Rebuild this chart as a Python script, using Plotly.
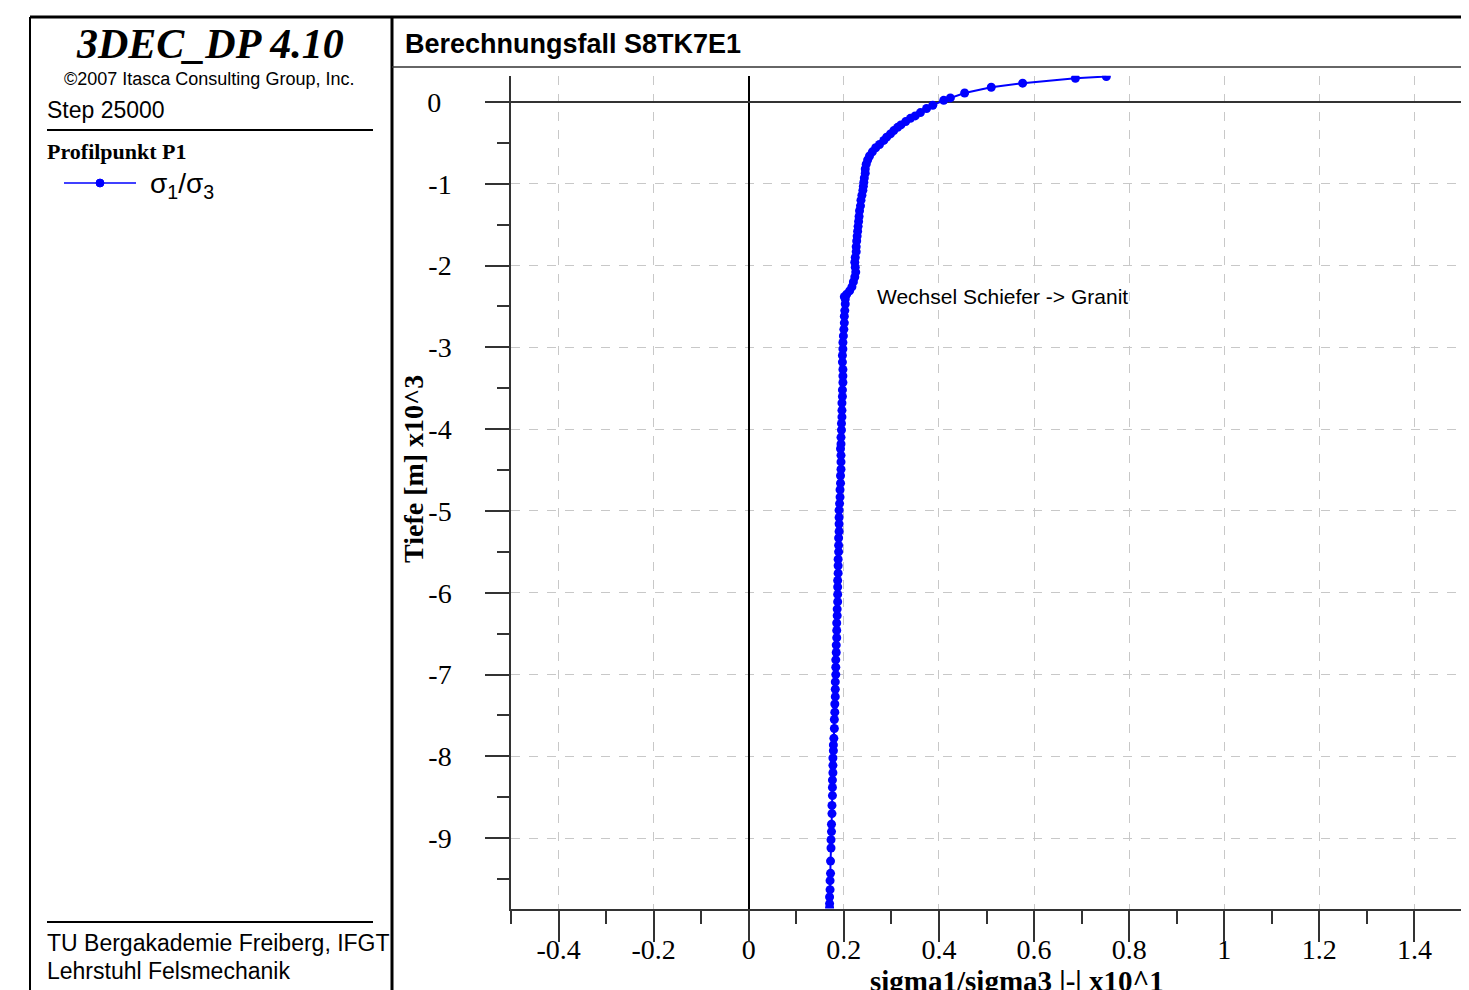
import plotly.graph_objects as go

# ---- data (depth in x10^3 m, ratio sigma1/sigma3 in x10^1) ----
depth_top = [0.31, 0.29, 0.23, 0.18, 0.11, 0.05, 0.02, -0.04, -0.08, -0.13, -0.17, -0.20,
             -0.24, -0.28, -0.31, -0.35, -0.39, -0.43, -0.47, -0.52, -0.56, -0.61, -0.66,
             -0.71, -0.76, -0.82, -0.87, -0.93, -0.98, -1.03]
ratio_top = [0.752, 0.687, 0.576, 0.510, 0.454, 0.424, 0.410, 0.387, 0.374, 0.361, 0.350, 0.340,
             0.330, 0.320, 0.313, 0.305, 0.298, 0.290, 0.284, 0.275, 0.267, 0.260, 0.254,
             0.250, 0.247, 0.245, 0.245, 0.243, 0.242, 0.241]

depth_mid = [-1.08, -1.14, -1.20, -1.27, -1.33, -1.40, -1.46, -1.52, -1.58, -1.64, -1.70, -1.77,
             -1.83, -1.90, -1.96, -2.02, -2.08, -2.14, -2.20, -2.26, -2.31, -2.35, -2.38, -2.41]
ratio_mid = [0.240, 0.238, 0.236, 0.235, 0.233, 0.232, 0.231, 0.230, 0.229, 0.228, 0.227, 0.226,
             0.226, 0.224, 0.223, 0.224, 0.225, 0.223, 0.220, 0.217, 0.212, 0.206, 0.201, 0.203]

depth_low = [-2.47, -2.55, -2.62, -2.70, -2.78, -2.86, -2.94, -3.02, -3.10, -3.18, -3.27, -3.35,
             -3.43, -3.52, -3.60, -3.68, -3.77, -3.85, -3.93, -4.01, -4.10, -4.18, -4.24, -4.32,
             -4.40, -4.49, -4.57, -4.66, -4.74, -4.83, -4.91, -4.99, -5.08, -5.16, -5.25, -5.33,
             -5.42, -5.50, -5.59, -5.67, -5.76, -5.85, -5.93, -6.02, -6.11, -6.20, -6.28, -6.37]
ratio_low = [0.203, 0.202, 0.201, 0.201, 0.200, 0.199, 0.198, 0.198, 0.197, 0.197, 0.198, 0.198,
             0.198, 0.197, 0.197, 0.196, 0.196, 0.196, 0.195, 0.195, 0.194, 0.194, 0.193, 0.194,
             0.194, 0.194, 0.193, 0.193, 0.192, 0.192, 0.191, 0.190, 0.190, 0.190, 0.190, 0.189,
             0.189, 0.189, 0.188, 0.188, 0.188, 0.187, 0.187, 0.187, 0.187, 0.186, 0.186, 0.185]

depth_bot = [-6.46, -6.55, -6.64, -6.73, -6.82, -6.91, -7.00, -7.09, -7.18, -7.27, -7.36, -7.46,
             -7.55, -7.66, -7.78, -7.86, -7.93, -8.02, -8.11, -8.20, -8.29, -8.38, -8.48, -8.60,
             -8.70, -8.83, -8.92, -9.02, -9.12, -9.28, -9.43, -9.52, -9.63, -9.72, -9.80, -9.85]
ratio_bot = [0.185, 0.185, 0.184, 0.184, 0.183, 0.183, 0.183, 0.182, 0.182, 0.182, 0.181, 0.181,
             0.180, 0.180, 0.179, 0.178, 0.178, 0.177, 0.177, 0.177, 0.176, 0.176, 0.176, 0.175,
             0.175, 0.174, 0.174, 0.173, 0.173, 0.172, 0.172, 0.171, 0.171, 0.170, 0.170, 0.170]

depth = depth_top + depth_mid + depth_low + depth_bot
ratio = ratio_top + ratio_mid + ratio_low + ratio_bot
assert len(depth) == len(ratio)

x_ticks = [-0.4, -0.2, 0, 0.2, 0.4, 0.6, 0.8, 1, 1.2, 1.4]
x_tick_labels = ["-0.4", "-0.2", "0", "0.2", "0.4", "0.6", "0.8", "1", "1.2", "1.4"]
y_ticks = [0, -1, -2, -3, -4, -5, -6, -7, -8, -9]
y_tick_labels = ["0\u2006\u2009", "-1", "-2", "-3", "-4", "-5", "-6", "-7", "-8", "-9"]

# the page body has an 8px margin; figure fills the rest of the window
OFF = 8
W, H = 1469 - OFF, 990 - OFF
BLUE = "#0000ff"
SERIF = "Liberation Serif, Times New Roman, serif"
SANS = "Liberation Sans, Arial, sans-serif"


def px(x):
    return (x - OFF) / W


def py(y):
    return 1 - (y - OFF) / H


fig = go.Figure()
fig.add_trace(go.Scatter(
    x=ratio, y=depth, mode="lines+markers",
    line=dict(color=BLUE, width=2),
    marker=dict(color=BLUE, size=9, symbol="circle"),
    showlegend=False,
))
# invisible companion trace carrying the tick-mark axis
fig.add_trace(go.Scatter(
    x=ratio, y=depth, xaxis="x2", mode="lines",
    line=dict(color="rgba(0,0,0,0)", width=0), hoverinfo="skip", showlegend=False,
))

XDOM = [px(511), px(1462)]
fig.update_layout(
    xaxis=dict(
        domain=XDOM, range=[-0.5, 1.5],
        tickvals=x_ticks, ticktext=x_tick_labels,
        ticks="", ticklabelstandoff=15,
        showgrid=True, gridcolor="#c8c8c8", griddash="dash", gridwidth=1,
        showline=True, linecolor="#333", linewidth=1.5,
        zeroline=True, zerolinecolor="#000", zerolinewidth=2,
        tickfont=dict(family=SERIF, size=28, color="#000"),
        anchor="y",
    ),
    xaxis2=dict(
        domain=XDOM, range=[-0.5, 1.5], overlaying="x", anchor="y", side="bottom",
        tickvals=x_ticks, showticklabels=False,
        ticks="outside", ticklen=32, tickwidth=1.5, tickcolor="#333",
        minor=dict(dtick=0.1, ticks="outside", ticklen=14, tickwidth=1.5, tickcolor="#333", showgrid=False),
        showgrid=False, zeroline=False, showline=False,
    ),
    yaxis=dict(
        domain=[py(908.5), py(75.8)], range=[-9.86, 0.32],
        tickvals=y_ticks, ticktext=y_tick_labels,
        ticks="outside", ticklen=24, tickwidth=1.5, tickcolor="#333",
        minor=dict(dtick=0.5, ticks="outside", ticklen=12, tickwidth=1.5, tickcolor="#333", showgrid=False),
        showgrid=True, gridcolor="#c8c8c8", griddash="dash", gridwidth=1,
        showline=True, linecolor="#333", linewidth=1.5,
        zeroline=True, zerolinecolor="#333", zerolinewidth=1.5,
        tickfont=dict(family=SERIF, size=28, color="#000"),
        ticklabelstandoff=28,
        anchor="x",
    ),
)

shapes = []


def line(x0, y0, x1, y1, color="#000", width=2):
    shapes.append(dict(type="line", xref="paper", yref="paper",
                       x0=px(x0), y0=py(y0), x1=px(x1), y1=py(y1),
                       line=dict(color=color, width=width)))


line(30, 17, 1469, 17, width=3)
line(30, 17, 30, 990, width=2)
line(392, 17, 392, 990, width=3)
line(392, 67, 1469, 67, color="#333", width=1.5)
line(47, 130, 373, 130, width=2)
line(47, 922, 373, 922, width=2)
line(64, 183, 136, 183, color=BLUE, width=1.5)
shapes.append(dict(type="circle", xref="paper", yref="paper",
                   x0=px(96), x1=px(104), y0=py(187), y1=py(179),
                   fillcolor=BLUE, line=dict(color=BLUE, width=1)))

annotations = []


def text(t, x, y, size, family=SANS, xanchor="left", yanchor="middle", angle=0):
    annotations.append(dict(text=t, xref="paper", yref="paper", x=px(x), y=py(y),
                            xanchor=xanchor, yanchor=yanchor, showarrow=False,
                            textangle=angle,
                            font=dict(family=family, size=size, color="#000")))


text("<b><i>3DEC_DP 4.10</i></b>", 210, 44, 42, family=SERIF, xanchor="center")
text("©2007 Itasca Consulting Group, Inc.", 209, 79, 18, xanchor="center")
text("Step 25000", 45, 110, 23)
text("<b>Profilpunkt P1</b>", 45, 151, 22, family=SERIF)
text("σ<sub>1</sub>/σ<sub>3</sub>", 148, 185, 28)
text("TU Bergakademie Freiberg, IFGT", 45, 943, 23)
text("Lehrstuhl Felsmechanik", 45, 971, 23)
text("<b>Berechnungsfall S8TK7E1</b>", 403, 44, 27)
text("<b>Tiefe [m] x10^3</b>", 413, 469, 28, family=SERIF, xanchor="center", angle=-90)
text("<b>sigma1/sigma3 |-| x10^1</b>", 1017, 981, 29, family=SERIF, xanchor="center")

annotations.append(dict(text="Wechsel Schiefer -> Granit", x=0.266, y=-2.38, xref="x", yref="y",
                        xanchor="left", yanchor="middle", showarrow=False,
                        font=dict(family=SANS, size=21, color="#000")))

fig.update_layout(
    width=W, height=H, autosize=False,
    margin=dict(l=0, r=0, t=0, b=0),
    paper_bgcolor="white", plot_bgcolor="white",
    shapes=shapes, annotations=annotations,
    showlegend=False,
)

fig.write_html("out.html")
